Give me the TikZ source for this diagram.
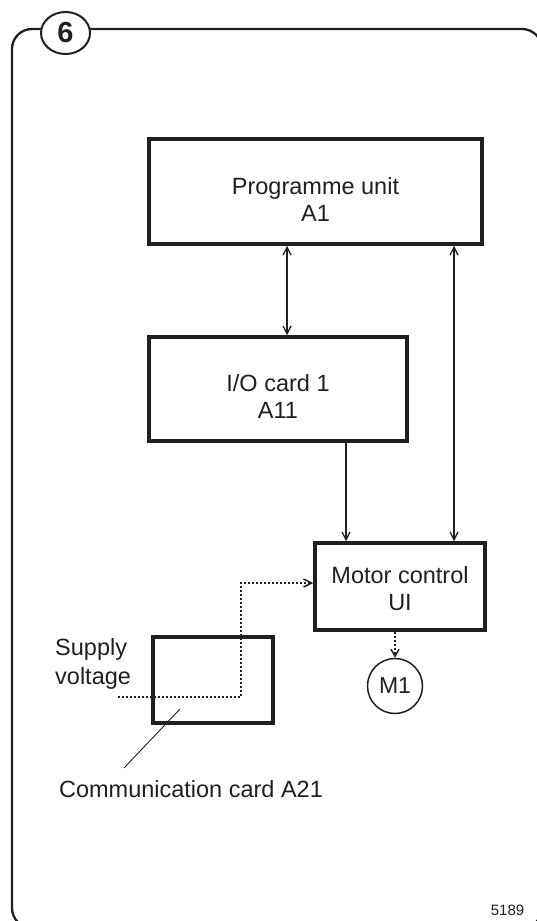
\documentclass[tikz,border=0pt]{standalone}
\usepackage{fontspec}
\setmainfont{Liberation Sans}
\usetikzlibrary{arrows.meta,shapes.geometric}
\definecolor{ink}{RGB}{35,31,32}
\tikzset{
  box/.style={draw=ink, line width=3.5pt, rectangle, inner sep=0pt},
  lbl/.style={text=ink, font=\fontsize{23.5}{27}\selectfont, align=center, inner sep=0pt},
  conn/.style={draw=ink, line width=1.3pt, -{Straight Barb[length=8pt,width=8pt]}},
  dconn/.style={draw=ink, line width=1.3pt, {Straight Barb[length=8pt,width=8pt]}-{Straight Barb[length=8pt,width=8pt]}},
  dotconn/.style={draw=ink, line width=1.5pt, dash pattern=on 2pt off 2pt},
}
\begin{document}
\begin{tikzpicture}[x=1pt,y=-1pt]
\useasboundingbox (0,0) rectangle (537,921);
\clip (0,0) rectangle (537,921);
% frame
\draw[ink, line width=2.3pt, rounded corners=20pt] (12,29) rectangle (542,928);
\node[draw=ink, fill=white, line width=2pt, ellipse, minimum width=49pt, minimum height=42pt, inner sep=0pt,
      text=ink, font=\fontsize{29}{29}\bfseries\selectfont] (six) at (65.5,33) {6};
% boxes
\node[box, minimum width=333pt, minimum height=105pt] (pu) at (315.5,191.5) {};
\node[lbl] (put) at (315.5,199) {Programme unit\\A1};
\node[box, minimum width=258pt, minimum height=104pt] (io) at (278,389) {};
\node[lbl] (iot) at (278,396) {I/O card 1\\A11};
\node[box, minimum width=170pt, minimum height=87pt] (mc) at (400,586.5) {};
\node[lbl] (mct) at (400,589) {Motor control\\UI};
\node[box, minimum width=120pt, minimum height=86pt] (cc) at (213,680) {};
\node[draw=ink, line width=1.5pt, circle, minimum size=55pt, inner sep=0pt, text=ink,
      font=\fontsize{23}{23}\selectfont] (m1) at (395,686) {M1};
% connectors
\coordinate (xa) at (287,0);
\coordinate (xb) at (346,0);
\coordinate (xc) at (454,0);
\draw[dconn] (xa |- pu.south) -- (xa |- io.north);
\draw[dconn] (xc |- pu.south) -- (xc |- mc.north);
\draw[conn] (xb |- io.south) -- (xb |- mc.north);
\draw[dotconn, -{Straight Barb[length=7pt,width=8pt]}] (m1.north |- mc.south) -- (m1.north);
% supply voltage dotted path
\coordinate (sv) at (118,697);
\coordinate (b1) at (241,697);
\coordinate (b2) at (241,583);
\draw[dotconn, -{Straight Barb[length=8pt,width=8pt]}] (sv) -- (b1) -- (b2) -- (b2 -| mc.west);
% texts
\node[lbl, align=left, anchor=west, font=\fontsize{23.5}{29}\selectfont] (svt) at (55,664) {Supply\\voltage};
\node[text=ink, font=\fontsize{23.5}{27}\selectfont, inner sep=0pt, anchor=base] (cct) at (191,797) {Communication card A21};
\coordinate (ld1) at (180,709);
\coordinate (ld2) at (124,768);
\draw[ink, line width=0.9pt] (ld1) -- (ld2);
\node[text=ink, font=\fontsize{15}{15}\selectfont, inner sep=0pt, anchor=base] (num) at (507.5,915) {5189};
\end{tikzpicture}
\end{document}
